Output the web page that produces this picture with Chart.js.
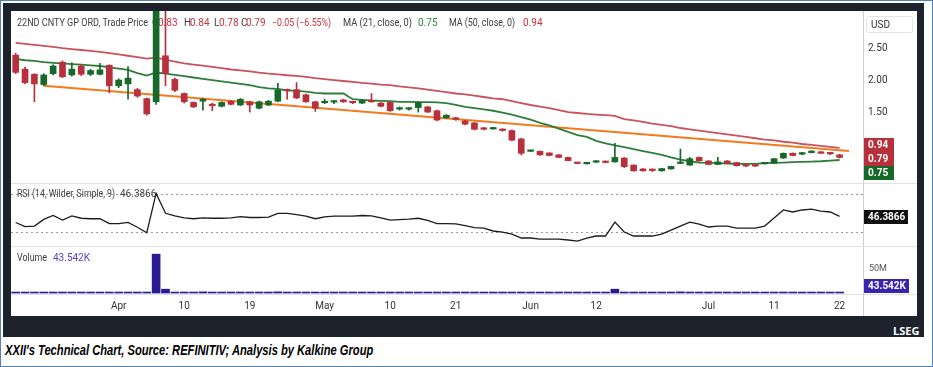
<!DOCTYPE html>
<html>
<head>
<meta charset="utf-8">
<script src="https://cdn.jsdelivr.net/npm/chart.js@4.4.1/dist/chart.umd.min.js"></script>
<style>
  body { margin:0; width:933px; height:367px; background:#fff; overflow:hidden; position:relative; font-family:Roboto, sans-serif; }
  #outer { position:absolute; left:0; top:0; width:931px; height:365px; border:1px solid #4f81bd; }
  #frame { position:absolute; left:3px; top:3px; width:921px; height:334px; background:#1e222d; }
  #panel { position:absolute; left:11px; top:11px; width:906px; height:305px; background:#fff; }
  #lseg { position:absolute; left:893px; top:323px; color:#fff; font:bold 11px "Open Sans", sans-serif; }
  #caption { position:absolute; left:5px; top:342px; color:#000; white-space:nowrap; transform-origin:0 0; font:italic bold 14px "Liberation Sans", sans-serif; }
</style>
</head>
<body>
<div id="outer"></div>
<div id="frame"></div>
<div id="panel"><canvas id="myChart" width="906" height="305"></canvas></div>
<div id="lseg">LSEG</div>
<div id="caption">XXII's Technical Chart, Source: REFINITIV; Analysis by Kalkine Group</div>
<script>
// trading days shown on the chart
const dates = ['2024-03-14','2024-03-15','2024-03-18','2024-03-19','2024-03-20','2024-03-21','2024-03-22','2024-03-25','2024-03-26','2024-03-27','2024-03-28',
  '2024-04-01','2024-04-02','2024-04-03','2024-04-04','2024-04-05','2024-04-08','2024-04-09','2024-04-10','2024-04-11','2024-04-12',
  '2024-04-15','2024-04-16','2024-04-17','2024-04-18','2024-04-19','2024-04-22','2024-04-23','2024-04-24','2024-04-25','2024-04-26',
  '2024-04-29','2024-04-30','2024-05-01','2024-05-02','2024-05-03','2024-05-06','2024-05-07','2024-05-08','2024-05-09','2024-05-10',
  '2024-05-13','2024-05-14','2024-05-15','2024-05-16','2024-05-17','2024-05-20','2024-05-21','2024-05-22','2024-05-23','2024-05-24',
  '2024-05-28','2024-05-29','2024-05-30','2024-05-31','2024-06-03','2024-06-04','2024-06-05','2024-06-06','2024-06-07','2024-06-10',
  '2024-06-11','2024-06-12','2024-06-13','2024-06-14','2024-06-17','2024-06-18','2024-06-20','2024-06-21','2024-06-24','2024-06-25',
  '2024-06-26','2024-06-27','2024-06-28','2024-07-01','2024-07-02','2024-07-03','2024-07-05','2024-07-08','2024-07-09','2024-07-10',
  '2024-07-11','2024-07-12','2024-07-15','2024-07-16','2024-07-17','2024-07-18','2024-07-19','2024-07-22'];

const openP  = [2.39,2.17,2.09,1.93,2.10,2.28,2.08,2.22,2.09,2.09,2.23, 1.91,1.94,1.85,1.71,1.66,2.38,2.01,1.79,1.65,1.67,
  1.62,1.59,1.67,1.61,1.66,1.56,1.61,1.67,1.84,1.85, 1.77,1.66,1.645,1.655,1.69,1.66,1.64,1.67,1.64,1.65,
  1.545,1.545,1.57,1.58,1.52,1.41,1.41,1.36,1.33,1.25, 1.235,1.23,1.21,1.08,0.885,0.886,0.86,0.83,0.79,0.705,
  0.69,0.715,0.73,0.72,0.78,0.67,0.61,0.595,0.58,0.61, 0.695,0.67,0.79,0.735,0.68,0.735,0.71,0.665,0.665,0.69,
  0.70,0.78,0.855,0.84,0.865,0.875,0.86,0.83];
const highP  = [2.42,2.20,2.10,2.10,2.24,2.30,2.27,2.23,2.17,2.26,2.24, 2.02,2.21,1.87,1.72,3.60,3.10,2.03,1.80,1.66,1.72,
  1.64,1.66,1.68,1.71,1.67,1.67,1.68,1.95,1.86,1.96, 1.78,1.67,1.70,1.68,1.70,1.67,1.69,1.79,1.65,1.66,
  1.58,1.57,1.66,1.59,1.53,1.46,1.42,1.37,1.34,1.26, 1.26,1.24,1.22,1.09,0.90,0.89,0.865,0.835,0.795,0.71,
  0.715,0.74,0.735,1.01,0.79,0.675,0.615,0.61,0.62,0.655, 0.92,0.79,0.80,0.74,0.79,0.74,0.715,0.67,0.67,0.715,
  0.775,0.86,0.86,0.87,0.895,0.88,0.87,0.84];
const lowP   = [2.10,1.94,1.66,1.91,2.08,2.04,2.06,2.07,2.07,2.08,1.80, 1.88,1.70,1.73,1.45,1.62,1.91,1.82,1.64,1.57,1.53,
  1.52,1.58,1.61,1.60,1.50,1.55,1.60,1.66,1.70,1.71, 1.65,1.51,1.63,1.63,1.65,1.63,1.63,1.65,1.58,1.51,
  1.53,1.53,1.50,1.49,1.36,1.40,1.37,1.30,1.22,1.22, 1.23,1.20,1.05,0.83,0.88,0.82,0.815,0.785,0.735,0.69,
  0.685,0.71,0.705,0.715,0.63,0.575,0.575,0.57,0.575,0.605, 0.69,0.665,0.73,0.675,0.675,0.695,0.655,0.645,0.645,0.685,
  0.695,0.775,0.815,0.835,0.86,0.85,0.835,0.78];
const closeP = [2.12,1.96,1.94,2.08,2.22,2.05,2.17,2.09,2.15,2.16,1.91, 2.00,2.03,1.75,1.47,3.25,2.10,1.84,1.66,1.58,1.70,
  1.60,1.65,1.62,1.70,1.61,1.66,1.67,1.84,1.83,1.72, 1.66,1.56,1.655,1.665,1.66,1.645,1.68,1.66,1.59,1.52,
  1.555,1.555,1.65,1.50,1.375,1.45,1.385,1.31,1.23,1.23, 1.255,1.21,1.06,0.855,0.895,0.83,0.82,0.79,0.74,0.695,
  0.71,0.725,0.71,0.79,0.645,0.58,0.58,0.585,0.615,0.65, 0.705,0.77,0.735,0.68,0.72,0.70,0.66,0.655,0.655,0.71,
  0.77,0.855,0.82,0.865,0.89,0.855,0.845,0.79];

const ma21 = [2.33,2.31,2.30,2.28,2.27,2.26,2.25,2.24,2.23,2.22,2.20, 2.18,2.16,2.11,2.07,2.12,2.10,2.08,2.06,2.04,2.02,
  2.00,1.98,1.96,1.94,1.92,1.89,1.87,1.86,1.84,1.83, 1.82,1.80,1.79,1.79,1.79,1.70,1.69,1.68,1.675,1.67,
  1.66,1.66,1.655,1.655,1.65,1.64,1.61,1.58,1.56,1.54, 1.52,1.49,1.46,1.42,1.38,1.33,1.29,1.24,1.19,1.14,
  1.11,1.05,1.01,0.98,0.95,0.92,0.89,0.86,0.83,0.79, 0.755,0.73,0.71,0.705,0.70,0.695,0.69,0.69,0.69,0.70,
  0.705,0.71,0.715,0.72,0.725,0.73,0.74,0.75];
const ma50 = [2.58,2.565,2.55,2.535,2.52,2.50,2.485,2.47,2.455,2.44,2.42, 2.40,2.38,2.36,2.335,2.35,2.32,2.29,2.26,2.24,2.225,
  2.205,2.185,2.165,2.15,2.135,2.115,2.10,2.09,2.075,2.065, 2.05,2.03,2.015,2.00,1.985,1.97,1.955,1.945,1.93,1.92,
  1.90,1.885,1.87,1.85,1.83,1.81,1.79,1.775,1.755,1.735, 1.715,1.70,1.67,1.64,1.61,1.585,1.56,1.53,1.50,1.485,
  1.47,1.46,1.45,1.44,1.39,1.37,1.345,1.32,1.30,1.28, 1.25,1.23,1.21,1.19,1.17,1.15,1.13,1.11,1.09,1.07,
  1.055,1.035,1.02,1.00,0.985,0.97,0.955,0.94];

// hand drawn support line: start and end
const trendIdx = [3, 89];
const trendVal = [1.91, 0.89];

const rsi = [40.0,35.6,36.3,43.3,47.5,42.6,47.0,44.5,44.0,44.0,38.9, 38.9,40.2,35.0,29.3,70.7,49.7,47.0,44.9,44.0,44.9,
  44.5,44.5,44.9,46.3,45.3,45.3,45.6,49.7,49.7,48.4, 46.7,44.0,45.9,46.7,46.7,46.7,47.4,47.0,44.9,42.6,
  43.0,43.6,44.5,42.3,38.9,38.9,38.6,36.8,34.6,34.2, 31.1,30.0,27.9,23.7,23.7,22.6,22.6,22.6,21.6,20.5,
  23.7,25.8,25.8,40.5,30.0,25.8,25.8,25.8,27.9,32.1, 36.3,40.5,38.4,35.3,36.3,36.3,34.2,34.2,34.2,36.3,
  44.7,53.2,51.1,53.2,54.2,52.1,51.1,46.3866];

// volume in millions
const volume = [0.9,0.8,0.9,0.7,0.8,0.8,0.7,0.7,0.8,0.7,0.9, 0.8,0.9,0.9,1.2,81,8,2,1.5,1,2.5,
  1,0.8,0.8,0.9,0.8,0.8,0.8,2.5,1,1, 0.9,0.9,0.8,0.7,0.7,0.8,0.7,0.9,0.8,0.9,
  0.7,0.7,0.8,0.8,1,0.8,0.8,0.8,0.9,0.7, 0.7,0.7,1,1.5,0.9,0.8,0.8,0.8,0.9,0.8,
  0.7,0.8,0.8,8,1.2,1,0.8,0.7,0.7,0.8, 2.5,1.5,0.9,0.8,0.9,0.8,0.8,0.7,0.7,0.8,
  0.9,1,0.8,0.8,0.8,0.7,0.7,0.043542];

const tickDates = ['2024-04-01','2024-04-10','2024-04-19','2024-05-01','2024-05-10','2024-05-21','2024-06-03','2024-06-12','2024-07-01','2024-07-11','2024-07-22'];
const tickText  = ['Apr','10','19','May','10','21','Jun','12','Jul','11','22'];
const priceTicks = [1.5, 2.0, 2.5];

const UP = '#17692a', DOWN = '#b7303b';
const labels = dates.concat(['', '']); // empty slots at the right edge
const candleColors = closeP.map((c, i) => c >= openP[i] ? UP : DOWN);
const trendLine = labels.map((d, i) => { const k = trendIdx.indexOf(i); return k < 0 ? null : trendVal[k]; });

function fixY(s) { s.width = 54; s.paddingTop = 0; s.paddingBottom = 0; }

const overlay = {
  id: 'overlay',
  beforeDatasetsDraw(chart) {
    const ctx = chart.ctx;
    ctx.save();
    ctx.font = '10px Roboto';
    ctx.textBaseline = 'middle';
    ctx.textAlign = 'left';
    const gray = '#3d3d3d', red = '#cc3340', green = '#2f8a3c';
    // [text, colour, x, width it takes in the original (0 = natural)]
    function put(y, parts) {
      parts.forEach(p => {
        ctx.fillStyle = p[1];
        const w = ctx.measureText(p[0]).width;
        const k = p[3] ? p[3] / w : 1;
        ctx.save();
        ctx.translate(p[2], y);
        ctx.scale(k, 1);
        ctx.fillText(p[0], 0, 0);
        ctx.restore();
      });
    }
    put(12, [['22ND CNTY GP ORD, Trade Price', gray, 6, 131], ['O', gray, 141, 0], ['0.83', red, 147, 0], ['H', gray, 173, 0], ['0.84', red, 179, 0],
      ['L', gray, 203, 0], ['0.78', red, 208, 0], ['C', gray, 230, 0], ['0.79', red, 235, 0], ['\u22120.05 (\u22126.55%)', red, 261, 59],
      ['MA (21, close, 0)', gray, 332, 69], ['0.75', green, 407, 0], ['MA (50, close, 0)', gray, 438, 66], ['0.94', red, 512, 0]]);
    const rt = chart.scales.yRsi.top, vt = chart.scales.yVol.top;
    put(rt + 11, [['RSI (14, Wilder, Simple, 9)', gray, 6, 98], ['46.3866', gray, 109, 0]]);
    put(vt + 12, [['Volume', gray, 6, 30], ['43.542K', '#5a3cc8', 42, 0]]);
    ctx.restore();
  },
  afterDraw(chart) {
    const ctx = chart.ctx, ys = chart.scales.y, rs = chart.scales.yRsi, vs = chart.scales.yVol;
    const W = chart.width, H = chart.height, ax = ys.left;
    ctx.save();
    // pane separators
    ctx.strokeStyle = '#e2e2e2';
    ctx.lineWidth = 1;
    [rs.top, vs.top, vs.bottom].forEach(y => {
      ctx.beginPath(); ctx.moveTo(0, Math.round(y) + 0.5); ctx.lineTo(W, Math.round(y) + 0.5); ctx.stroke();
    });
    ctx.strokeStyle = '#cfcfcf';
    ctx.beginPath(); ctx.moveTo(Math.round(ax) + 0.5, vs.bottom); ctx.lineTo(Math.round(ax) + 0.5, H); ctx.stroke();

    // USD box
    ctx.fillStyle = '#fff';
    ctx.strokeStyle = '#e4e4e4';
    ctx.beginPath(); ctx.roundRect(ax + 3.5, 5.5, 46, 16, 2); ctx.fill(); ctx.stroke();
    ctx.font = '10px Roboto';
    ctx.textBaseline = 'middle';
    ctx.textAlign = 'left';
    ctx.fillStyle = '#333';
    ctx.fillText('USD', ax + 8, 14);

    function tag(text, yc, bg, w) {
      ctx.fillStyle = bg;
      ctx.fillRect(ax + 1, Math.round(yc - 7), w, 14);
      ctx.fillStyle = '#fff';
      ctx.font = 'bold 10px Roboto';
      ctx.fillText(text, ax + 5, Math.round(yc) + 0.5);
    }
    // last value tags, stacked so they do not overlap
    const last = ma50.length - 1;
    const tags = [[ma50[last], DOWN], [closeP[last], DOWN], [ma21[last], UP]];
    let prev = -1e9;
    tags.forEach((t, i) => {
      let yc = ys.getPixelForValue(t[0]) - (i === 0 ? 3 : 0);
      yc = Math.max(yc, prev + 14);
      prev = yc;
      tag(t[0].toFixed(2), yc, t[1], 30);
    });
    tag('46.3866', rs.getPixelForValue(rsi[rsi.length - 1]) + 0.5, '#111', 44);
    tag('43.542K', vs.bottom - 8, '#3b22b0', 45);
    ctx.restore();
  }
};

const ctx = document.getElementById('myChart').getContext('2d');
window.myChart = new Chart(ctx, {
  data: {
    labels: labels,
    datasets: [
      { type: 'bar', data: openP.map((o, i) => [o, closeP[i]]), backgroundColor: candleColors, barThickness: 6, minBarLength: 1.5, grouped: false, yAxisID: 'y', order: 0 },
      { type: 'bar', data: lowP.map((l, i) => [l, highP[i]]), backgroundColor: candleColors, barThickness: 1, grouped: false, yAxisID: 'y', order: 1 },
      { type: 'line', data: ma50, borderColor: '#c9525d', borderWidth: 1.8, pointRadius: 0, yAxisID: 'y', order: 2 },
      { type: 'line', data: ma21, borderColor: '#2f7d3b', borderWidth: 1.8, pointRadius: 0, yAxisID: 'y', order: 2 },
      { type: 'line', data: trendLine, borderColor: '#f47a1f', borderWidth: 2, pointRadius: 0, spanGaps: true, yAxisID: 'y', order: 2 },
      { type: 'line', data: rsi, borderColor: '#1c1c1c', borderWidth: 1.3, pointRadius: 0, yAxisID: 'yRsi', order: 2 },
      { type: 'bar', data: volume.map(v => v * 1e6), backgroundColor: '#2b1b91', barThickness: 8, minBarLength: 1, grouped: false, yAxisID: 'yVol', order: 3 }
    ]
  },
  options: {
    responsive: false,
    animation: false,
    devicePixelRatio: 1,
    events: [],
    layout: { padding: 0 },
    plugins: { legend: { display: false }, tooltip: { enabled: false } },
    scales: {
      x: {
        type: 'category', offset: true,
        grid: { display: false, drawTicks: false }, border: { display: false },
        ticks: {
          autoSkip: false, maxRotation: 0, padding: 6, color: '#333', font: { size: 10, family: 'Roboto' },
          callback: function (v) { const k = tickDates.indexOf(this.getLabelForValue(v)); return k < 0 ? '' : tickText[k]; }
        },
        afterFit: s => { s.height = 22; s.paddingLeft = 0; s.paddingRight = 0; }
      },
      y: {
        position: 'right', stack: 'panes', stackWeight: 172, min: 0.39, max: 3.08,
        grid: { display: false, drawTicks: false }, border: { color: '#cfcfcf' },
        ticks: { padding: 5, color: '#333', font: { size: 10, family: 'Roboto' }, callback: v => v.toFixed(2) },
        afterBuildTicks: s => { s.ticks = priceTicks.map(v => ({ value: v })); },
        afterFit: fixY
      },
      yRsi: {
        position: 'right', stack: 'panes', stackWeight: 63, min: 15.3, max: 81.6,
        grid: { color: '#9a9a9a', drawTicks: false },
        border: { color: '#cfcfcf', dash: [2, 3] },
        ticks: { display: false },
        afterBuildTicks: s => { s.ticks = [{ value: 30 }, { value: 70 }]; },
        afterFit: fixY
      },
      yVol: {
        position: 'right', stack: 'panes', stackWeight: 48, min: -2e6, max: 98e6,
        grid: { display: false, drawTicks: false }, border: { color: '#cfcfcf' },
        ticks: { padding: 6, color: '#555', font: { size: 9, family: 'Roboto' }, callback: v => (v / 1e6) + 'M' },
        afterBuildTicks: s => { s.ticks = [{ value: 50e6 }]; },
        afterFit: fixY
      }
    }
  },
  plugins: [overlay]
});

// squeeze the caption to the width it has in the original
const cap = document.getElementById('caption');
cap.style.transform = 'scaleX(' + (368 / cap.offsetWidth) + ')';
</script>
</body>
</html>
